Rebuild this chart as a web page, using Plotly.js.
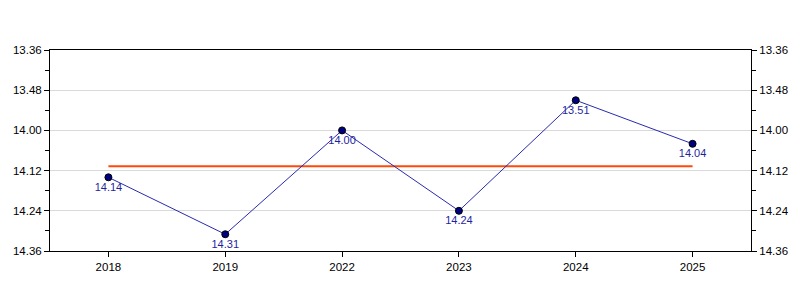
<!DOCTYPE html>
<html>
<head>
<meta charset="utf-8">
<script src="https://cdn.plot.ly/plotly-3.0.1.min.js"></script>
<style>html,body{margin:0;padding:0;background:#fff;}#chart{width:800px;height:300px;}</style>
</head>
<body>
<div id="chart"></div>
<script>
// Categories (years) and times in "min.sec" notation
const years = ["2018", "2019", "2022", "2023", "2024", "2025"];
const times = ["14.14", "14.31", "14.00", "14.24", "13.51", "14.04"];
const tickLabels = ["13.36", "13.48", "14.00", "14.12", "14.24", "14.36"];

function toSec(s) { const p = s.split("."); return parseInt(p[0], 10) * 60 + parseInt(p[1], 10); }
const secs = times.map(toSec);
const tickSecs = tickLabels.map(toSec);
const avg = secs.reduce((a, b) => a + b, 0) / secs.length;
const avgLine = years.map(() => avg);

const traces = [
  {
    x: years, y: avgLine, type: "scatter", mode: "lines",
    line: {color: "#ff4a0a", width: 2}, hoverinfo: "skip", showlegend: false
  },
  {
    x: years, y: secs, type: "scatter", mode: "lines+markers+text",
    text: times, textposition: "bottom center",
    textfont: {family: "Liberation Sans, Arial, sans-serif", size: 11, color: "#1f1fa0"},
    line: {color: "#2a2ab0", width: 1},
    marker: {color: "#000080", size: 7, line: {color: "#000000", width: 1}},
    showlegend: false
  },
  {
    x: years, y: secs, type: "scatter", mode: "markers", yaxis: "y2",
    marker: {opacity: 0}, hoverinfo: "skip", showlegend: false
  }
];

const yCommon = {
  range: [tickSecs[tickSecs.length - 1], tickSecs[0]],
  tickmode: "array", tickvals: tickSecs, ticktext: tickLabels,
  ticks: "outside", ticklen: 5, tickcolor: "#000", tickwidth: 1,
  minor: {dtick: 6, tick0: tickSecs[0], ticks: "outside", ticklen: 4, tickcolor: "#000", showgrid: false},
  showline: true, linecolor: "#000", linewidth: 1,
  tickfont: {family: "Liberation Sans, Arial, sans-serif", size: 11.5, color: "#000"},
  zeroline: false, fixedrange: true
};

const layout = {
  width: 800, height: 300,
  margin: {l: 50, r: 49, t: 50, b: 49},
  paper_bgcolor: "#fff", plot_bgcolor: "#fff",
  xaxis: {
    type: "category", range: [-0.5, 5.5],
    ticks: "outside", ticklen: 5, tickcolor: "#000",
    showline: true, linecolor: "#000", mirror: true, showgrid: false,
    tickfont: {family: "Liberation Sans, Arial, sans-serif", size: 11.5, color: "#000"}
  },
  yaxis: Object.assign({}, yCommon, {side: "left", showgrid: true, gridcolor: "#d9d9d9", gridwidth: 1}),
  yaxis2: Object.assign({}, yCommon, {side: "right", overlaying: "y", showgrid: false}),
  showlegend: false
};

Plotly.newPlot("chart", traces, layout, {staticPlot: true});
</script>
</body>
</html>
